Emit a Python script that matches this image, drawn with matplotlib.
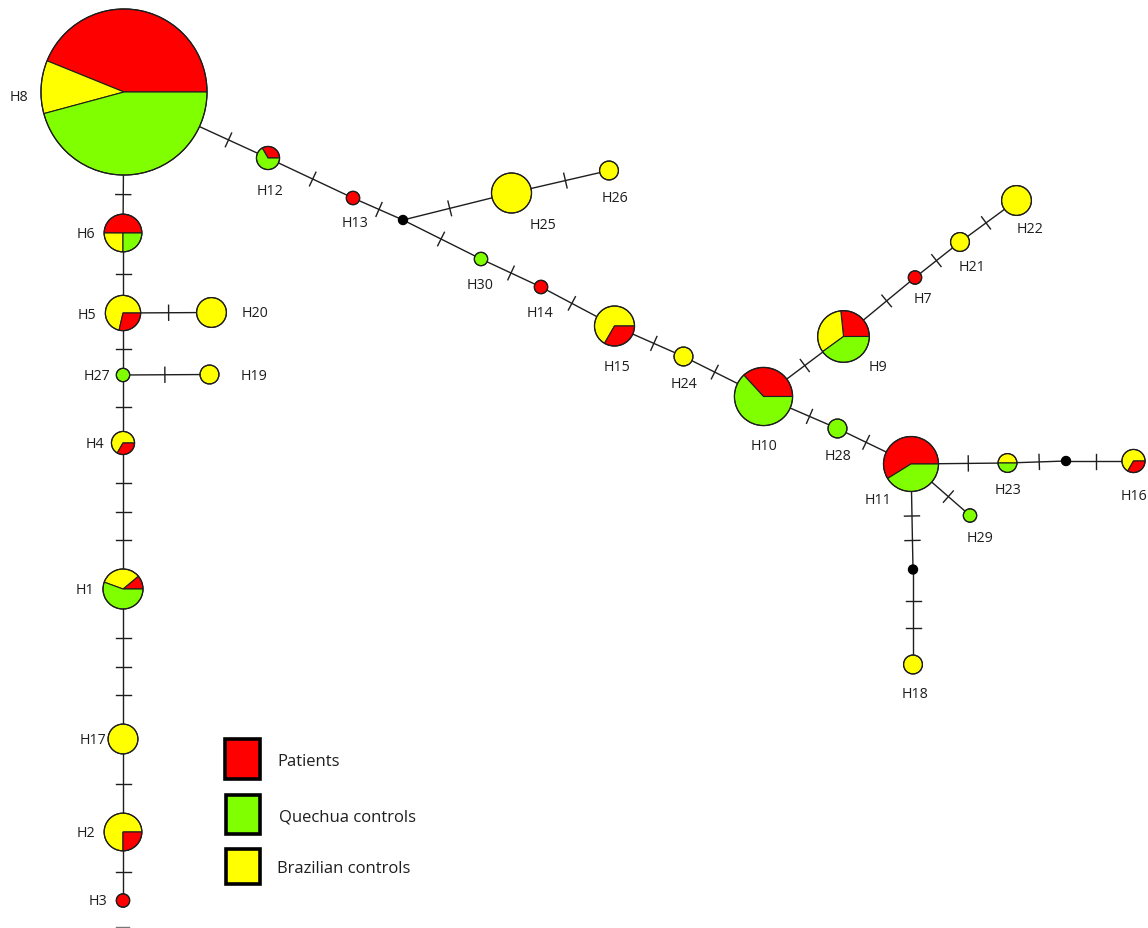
import numpy as np
import matplotlib

matplotlib.use("Agg")
import matplotlib.pyplot as plt
from matplotlib.patches import Wedge, Circle, Rectangle

plt.rcParams["font.family"] = ["Open Sans", "DejaVu Sans"]

RED = "#FF0000"
GREEN = "#80FF00"
YELLOW = "#FFFF00"
INK = "#1e1e1e"

# haplotype frequencies per group
haplotypes = ["H1", "H2", "H3", "H4", "H5", "H6", "H7", "H8", "H9", "H10",
              "H11", "H12", "H13", "H14", "H15", "H16", "H17", "H18", "H19", "H20",
              "H21", "H22", "H23", "H24", "H25", "H26", "H27", "H28", "H29", "H30"]
patients = [1, 2, 1, 1, 2, 4, 1, 68, 4, 7,
            10, 1, 1, 1, 3, 1, 0, 0, 0, 0,
            0, 0, 0, 0, 0, 0, 0, 0, 0, 0]
quechua = [5, 0, 0, 0, 0, 2, 0, 71, 6, 12,
           7, 2, 0, 0, 0, 0, 0, 0, 0, 0,
           0, 0, 1, 0, 0, 0, 1, 2, 1, 1]
brazilian = [3, 6, 0, 2, 5, 2, 0, 16, 5, 0,
             0, 0, 0, 0, 6, 2, 5, 2, 2, 5,
             2, 5, 1, 2, 9, 2, 0, 0, 0, 0]
medians = ["mv1", "mv2", "mv3"]

# network edges: (from, to, mutated positions)
links = [("H8", "H6", 1), ("H6", "H5", 1), ("H5", "H20", 1), ("H5", "H27", 1),
         ("H27", "H19", 1), ("H27", "H4", 1), ("H4", "H1", 3), ("H1", "H17", 3),
         ("H17", "H2", 1), ("H2", "H3", 1), ("H8", "H12", 1), ("H12", "H13", 1),
         ("H13", "mv1", 1), ("mv1", "H25", 1), ("H25", "H26", 1), ("mv1", "H30", 1),
         ("H30", "H14", 1), ("H14", "H15", 1), ("H15", "H24", 1), ("H24", "H10", 1),
         ("H10", "H9", 1), ("H9", "H7", 1), ("H7", "H21", 1), ("H21", "H22", 1),
         ("H10", "H28", 1), ("H28", "H11", 1), ("H11", "H23", 1), ("H23", "mv2", 1),
         ("mv2", "H16", 1), ("H11", "H29", 1), ("H11", "mv3", 2), ("mv3", "H18", 2)]

# layout (pixel space, y down)
pos = {
    "H8": (124, 93), "H6": (123, 234), "H5": (123, 314), "H20": (211.5, 313.5),
    "H27": (123, 376), "H19": (209.5, 375.5), "H4": (123, 444), "H1": (123, 590),
    "H17": (123, 740), "H2": (123, 833), "H3": (123, 901.5),
    "H12": (268, 159), "H13": (353, 199), "mv1": (403, 221), "H25": (511.5, 194),
    "H26": (609, 171.5), "H30": (481, 260), "H14": (541, 288), "H15": (614.5, 327),
    "H24": (683.5, 357.5), "H10": (763.5, 397.5), "H9": (843.5, 337.5),
    "H7": (915, 278.5), "H21": (960, 243), "H22": (1016.5, 201.5),
    "H28": (837.5, 429.5), "H11": (911, 465), "H23": (1007.5, 464),
    "mv2": (1066, 462), "H16": (1133.5, 462), "H29": (970, 516.5),
    "mv3": (913, 570.5), "H18": (913, 665.5),
}
label_pos = {
    "H8": (19, 97), "H12": (270, 191), "H6": (86, 234), "H13": (355, 223),
    "H25": (543, 225), "H26": (615, 198), "H30": (480, 285), "H14": (540, 313),
    "H15": (617, 367), "H24": (684, 385), "H10": (764, 446), "H9": (878, 367),
    "H28": (838, 457), "H7": (923, 299), "H21": (972, 267), "H22": (1030, 229),
    "H11": (878, 500), "H23": (1008, 490), "H16": (1134, 496), "H29": (980, 538),
    "H18": (915, 694), "H5": (87, 315), "H20": (255, 313), "H27": (97, 376),
    "H19": (254, 376), "H4": (95, 445), "H1": (85, 590), "H17": (93, 741),
    "H2": (86, 834), "H3": (98, 902),
}

R_UNIT = 6.67      # radius of a single-sample node, area ~ frequency
R_MEDIAN = 4.5

counts = {h: (p, q, b) for h, p, q, b in zip(haplotypes, patients, quechua, brazilian)}
radius = {h: R_UNIT * np.sqrt(sum(c)) for h, c in counts.items()}
radius.update({m: R_MEDIAN for m in medians})

fig = plt.figure(figsize=(11.48, 9.29), dpi=100)
ax = fig.add_axes([0, 0, 1, 1])
ax.set_xlim(0, 1148)
ax.set_ylim(929, 0)
ax.axis("off")

# edges and mutation ticks
for a, b, n_mut in links:
    (x1, y1), (x2, y2) = pos[a], pos[b]
    ax.plot([x1, x2], [y1, y2], color=INK, lw=1.0, zorder=1)
    d = np.hypot(x2 - x1, y2 - y1)
    ux, uy = (x2 - x1) / d, (y2 - y1) / d
    px, py = -uy, ux
    s0, s1 = radius[a], d - radius[b]
    for k in range(1, n_mut + 1):
        s = s0 + (s1 - s0) * k / (n_mut + 1)
        cx, cy = x1 + ux * s, y1 + uy * s
        ax.plot([cx - px * 7.5, cx + px * 7.5], [cy - py * 7.5, cy + py * 7.5],
                color=INK, lw=1.0, zorder=1)

# off-canvas continuation below H3
ax.plot([116, 129], [928, 928], color="#777777", lw=1.0, zorder=1)

# pie nodes
for h in haplotypes:
    p, q, b = counts[h]
    x, y = pos[h]
    r = radius[h]
    if q == 0 and p > 0 and b > 0:
        parts = [(b, YELLOW), (p, RED)]
    else:
        parts = [(p, RED), (b, YELLOW), (q, GREEN)]
    parts = [(v, c) for v, c in parts if v > 0]
    total = sum(v for v, _ in parts)
    start = 0.0
    for v, c in parts:
        end = start + 360.0 * v / total
        # y axis is inverted, so negate angles to run counter-clockwise on screen
        ax.add_patch(Wedge((x, y), r, -end, -start, facecolor=c,
                           edgecolor=INK, lw=0.8, zorder=2))
        start = end
    ax.add_patch(Circle((x, y), r, facecolor="none", edgecolor=INK, lw=0.9, zorder=3))
    lx, ly = label_pos[h]
    ax.text(lx, ly, h, fontsize=10.3, color=INK, ha="center", va="center")

for m in medians:
    ax.add_patch(Circle(pos[m], R_MEDIAN, facecolor="black", edgecolor="black", zorder=3))

# legend
legend = [("Patients", RED, (224.5, 740, 35, 39.5), (277, 762)),
          ("Quechua controls", GREEN, (225.5, 795.5, 34.5, 39.5), (279, 818)),
          ("Brazilian controls", YELLOW, (225.5, 849.5, 34.5, 35.5), (277, 869))]
for name, color, (rx, ry, rw, rh), (tx, ty) in legend:
    ax.add_patch(Rectangle((rx, ry), rw, rh, facecolor=color, edgecolor="black",
                           lw=2.6, zorder=3))
    ax.text(tx, ty, name, fontsize=12, color=INK, ha="left", va="center")

fig.savefig("out.png", dpi=100, facecolor="white")
